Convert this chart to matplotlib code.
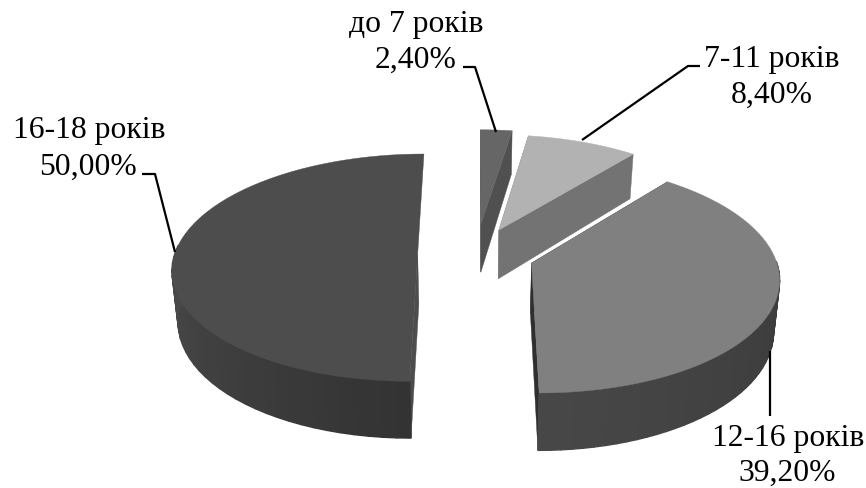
import matplotlib
matplotlib.use('Agg')
import matplotlib.pyplot as plt
import numpy as np
from matplotlib.patches import Polygon

# Données
categories = ['до 7 років', '7-11 років', '12-16 років', '16-18 років']
values = [2.40, 8.40, 39.20, 50.00]

# Style de chaque part
top_colors = ['#666666', '#b2b2b2', '#808080', '#4d4d4d']
cut_colors = ['#505050', '#737373', '#2f2f2f', '#4d4d4d']
side_start = [0.30, 0.45, 0.20, 0.20]
side_end = [0.30, 0.45, 0.28, 0.38]
explode = [0.28, 0.24, 0.24, 0.24]

# Position des textes et des traits de rappel (pixels)
name_pos = [(416, 32), (772, 67), (788, 446), (89, 138)]
pct_pos = [(416, 68), (772, 103), (787, 481), (88, 175)]
leaders = [
    [(463, 68), (475, 68), (496, 133)],
    [(582, 141), (688, 67), (700, 67)],
    [(770, 352), (770, 417)],
    [(142, 175), (155, 175), (175, 253)],
]

# Géométrie du camembert 3D
cx, cy = 476, 255
rx, ry = 243, 112
persp = 0.12
depth = 50
base_shrink = 0.98


def project(px, py, low=False):
    s = 1 / (1 + persp * py)
    x = cx + rx * px * s
    y = cy - ry * py * s
    if low:
        x = cx + (x - cx) * base_shrink
        y = y + depth * s
    return x, y


fig = plt.figure(figsize=(8.66, 4.89), dpi=100)
ax = fig.add_axes([0, 0, 1, 1])
ax.set_xlim(0, 866)
ax.set_ylim(489, 0)
ax.axis('off')

order = [3, 0, 1, 2]
edges = np.concatenate([[0], np.cumsum(values)]) / np.sum(values) * 2 * np.pi

for i in order:
    a0, a1 = edges[i], edges[i + 1]
    mid = (a0 + a1) / 2
    ox, oy = explode[i] * np.sin(mid), explode[i] * np.cos(mid)
    theta = np.linspace(a0, a1, 60)
    px = ox + np.sin(theta)
    py = oy + np.cos(theta)

    # Faces de coupe (la face arrière de la dernière part reste cachée)
    faces = (a1, a0) if i != 3 else (a0,)
    for a in faces:
        ex, ey = ox + np.sin(a), oy + np.cos(a)
        face = [project(ox, oy), project(ex, ey), project(ex, ey, True), project(ox, oy, True)]
        ax.add_patch(Polygon(face, closed=True, fc=cut_colors[i], ec=cut_colors[i], lw=0.3, zorder=i + 1))

    # Bord extérieur avec dégradé
    for k in range(len(theta) - 1):
        if np.cos(theta[k]) > 0.03:
            continue
        t = k / (len(theta) - 2)
        g = side_start[i] + (side_end[i] - side_start[i]) * t
        quad = [project(px[k], py[k]), project(px[k + 1], py[k + 1]),
                project(px[k + 1], py[k + 1], True), project(px[k], py[k], True)]
        ax.add_patch(Polygon(quad, closed=True, fc=str(g), ec=str(g), lw=1.0, zorder=i + 1))

    # Dessus
    top = [project(ox, oy)] + [project(a, b) for a, b in zip(px, py)]
    ax.add_patch(Polygon(top, closed=True, fc=top_colors[i], ec=top_colors[i], lw=0.3, zorder=i + 1))

# Etiquettes
for i, name in enumerate(categories):
    pct = f'{values[i]:.2f}%'.replace('.', ',')
    ax.text(*name_pos[i], name, ha='center', va='baseline', fontsize=22.8,
            family='Liberation Serif', color='black', zorder=10)
    ax.text(*pct_pos[i], pct, ha='center', va='baseline', fontsize=22.8,
            family='Liberation Serif', color='black', zorder=10)
    xs, ys = zip(*leaders[i])
    ax.plot(xs, ys, color='black', lw=1.6, zorder=9, solid_capstyle='butt')

fig.savefig('out.png', dpi=100)
